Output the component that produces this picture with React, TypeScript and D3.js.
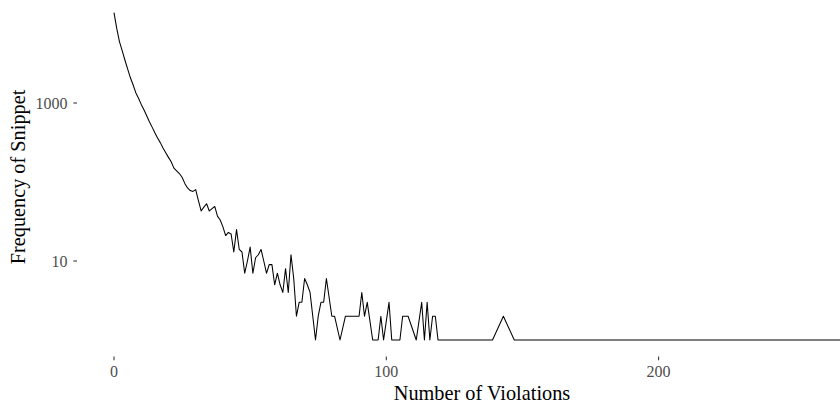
import React from "react";
import * as d3 from "d3";

// Number of violations per snippet (only counts that occur are listed)
const violations = [
  0, 1, 2, 3, 4, 5, 6, 7, 8, 9, 10, 11, 12, 13, 14, 15, 16, 17, 18, 19,
  20, 21, 22, 23, 24, 25, 26, 27, 28, 29, 30, 31, 32, 33, 34, 35, 36, 37, 38, 39,
  40, 41, 42, 43, 44, 45, 46, 47, 48, 49, 50, 51, 52, 53, 54, 55, 56, 57, 58, 59,
  60, 61, 62, 63, 64, 65, 66, 67, 68, 69, 70, 71, 72, 73, 74, 75, 76, 77, 78, 80,
  81, 83, 85, 90, 91, 92, 93, 95, 97, 98, 99, 101, 102, 105, 106, 108, 111, 113, 114, 115,
  116, 117, 118, 119, 139, 143, 147, 272,
];

// How many snippets have that number of violations
const frequencies = [
  13900, 8800, 6000, 4600, 3500, 2700, 2100, 1700, 1350, 1150, 960, 820, 690, 580, 495, 420, 360, 315, 270, 235,
  205, 180, 150, 138, 128, 115, 96, 84, 78, 76, 80, 58, 43, 48, 53, 43, 46, 49, 37, 33,
  27, 21, 23, 22, 13, 25, 14, 13, 7, 10, 15, 7, 11, 12, 14, 10, 7, 9, 9, 5,
  7, 5, 4, 8, 4, 12, 6, 2, 3, 3, 6, 5, 4, 2, 1, 2, 3, 3, 6, 2,
  2, 1, 2, 2, 4, 2, 3, 1, 1, 2, 1, 3, 1, 1, 2, 2, 1, 3, 1, 3,
  1, 2, 2, 1, 1, 2, 1, 1,
];

const xTicks = [0, 100, 200];
const yTicks = [10, 1000];

const WIDTH = 840;
const HEIGHT = 406;
const FONT = "'Liberation Serif', 'Times New Roman', serif";

export default function App() {
  const x = d3.scaleLinear().domain([0, 200]).range([114, 658.6]);
  const y = d3.scaleLog().domain([1, 1000]).range([340, 103]);

  const panelLeft = 77;
  const panelBottom = 356.5;

  const points: [number, number][] = violations.map((v, i) => [v, frequencies[i]]);
  const line = d3
    .line<[number, number]>()
    .x((d) => x(d[0]))
    .y((d) => y(d[1]));

  return (
    <svg
      width={WIDTH}
      height={HEIGHT}
      style={{ position: "absolute", left: 0, top: 0, display: "block", background: "#fff" }}
    >
      <rect x={0} y={0} width={WIDTH} height={HEIGHT} fill="#fff" />

      {/* frequency curve */}
      <path d={line(points) ?? ""} fill="none" stroke="#000" strokeWidth={1.05} strokeLinejoin="round" />

      {/* y axis ticks and labels */}
      {yTicks.map((t) => (
        <g key={`y${t}`}>
          <line x1={panelLeft - 3.7} x2={panelLeft} y1={y(t)} y2={y(t)} stroke="#333" strokeWidth={1.05} />
          <text
            x={panelLeft - 9.5}
            y={y(t)}
            dy="0.35em"
            textAnchor="end"
            fontFamily={FONT}
            fontSize={16}
            fill="#4d4d4d"
          >
            {t}
          </text>
        </g>
      ))}

      {/* x axis ticks and labels */}
      {xTicks.map((t) => (
        <g key={`x${t}`}>
          <line x1={x(t)} x2={x(t)} y1={panelBottom} y2={panelBottom + 3.7} stroke="#333" strokeWidth={1.05} />
          <text
            x={x(t)}
            y={377}
            textAnchor="middle"
            fontFamily={FONT}
            fontSize={16}
            fill="#4d4d4d"
          >
            {t}
          </text>
        </g>
      ))}

      {/* axis titles */}
      <text x={482} y={400} textAnchor="middle" fontFamily={FONT} fontSize={20.3} fill="#000">
        Number of Violations
      </text>
      <text
        transform={`translate(25, 177) rotate(-90)`}
        textAnchor="middle"
        fontFamily={FONT}
        fontSize={20.3}
        fill="#000"
      >
        Frequency of Snippet
      </text>
    </svg>
  );
}
